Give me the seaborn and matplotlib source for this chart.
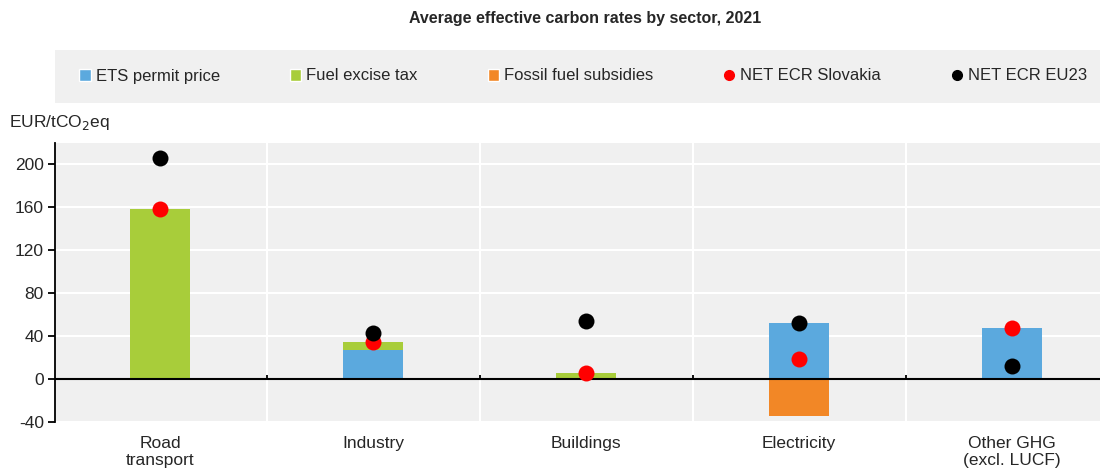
import numpy as np
import pandas as pd
import matplotlib
matplotlib.use("Agg")
import matplotlib.pyplot as plt
from matplotlib.patches import Patch, Rectangle
from matplotlib.lines import Line2D
import seaborn as sns

# Data
sectors = ["Road\ntransport", "Industry", "Buildings", "Electricity", "Other GHG\n(excl. LUCF)"]
ets_price = [0, 27, 0, 52, 47]
fuel_excise = [158, 7, 5.3, 0, 0]
fossil_subsidies = [0, 0, 0, -34, 0]
ecr_slovakia = [158, 34, 5.5, 19, 47]
ecr_eu23 = [206, 43, 54, 52, 12]

BLUE = "#5ba9de"
GREEN = "#a8cd3a"
ORANGE = "#f28726"
BG = "#f0f0f0"

df = pd.DataFrame({
    "sector": sectors,
    "ets": ets_price,
    "excise": fuel_excise,
    "subsidy": fossil_subsidies,
    "svk": ecr_slovakia,
    "eu23": ecr_eu23,
})
# stacked bars: draw the total first, then the lower segment on top
df["ets_excise"] = df["ets"] + df["excise"]

sns.set_theme(style="white")
plt.rcParams["font.family"] = ["Liberation Sans Narrow", "Liberation Sans", "DejaVu Sans"]
plt.rcParams["axes.unicode_minus"] = False

fig = plt.figure(figsize=(11.06, 4.72), dpi=100)
ax = fig.add_axes([55 / 1106, 1 - 422 / 472, 1045 / 1106, 279 / 472])
ax.set_facecolor(BG)

bar_kw = dict(width=0.28, saturation=1, ax=ax, zorder=2, linewidth=0, edgecolor="none")
sns.barplot(data=df, x="sector", y="ets_excise", color=GREEN, **bar_kw)
sns.barplot(data=df, x="sector", y="ets", color=BLUE, **bar_kw)
sns.barplot(data=df, x="sector", y="subsidy", color=ORANGE, **bar_kw)

sns.stripplot(data=df, x="sector", y="svk", color="#ff0000", size=11.5, jitter=False,
              linewidth=0, ax=ax, zorder=4)
sns.stripplot(data=df, x="sector", y="eu23", color="black", size=11.5, jitter=False,
              linewidth=0, ax=ax, zorder=4)

n = len(sectors)
ax.set_xlim(-0.493, 4.413)
ax.set_ylim(-40, 219.5)
ax.set_yticks(np.arange(-40, 201, 40))
ax.set_xticks(range(n))
ax.set_xticklabels(sectors)
ax.set_xticks(np.arange(0.5, n - 1, 1), minor=True)

ax.grid(True, which="major", axis="y", color="white", lw=1.5, zorder=0)
ax.grid(True, which="minor", axis="x", color="white", lw=1.5, zorder=0)
ax.set_axisbelow(True)
ax.axhline(0, color="black", lw=1.5, zorder=3)
# small tick marks on the zero line between sectors
ax.vlines(np.arange(0.5, n - 1, 1), 0, 3.5, color="black", lw=1.3, zorder=3)

for s in ["top", "right", "bottom"]:
    ax.spines[s].set_visible(False)
ax.spines["left"].set_color("black")
ax.spines["left"].set_linewidth(1.3)
ax.tick_params(axis="y", which="major", left=True, length=5, width=1.3,
               color="black", labelsize=12.5, pad=3)
ax.tick_params(axis="x", which="both", bottom=False, labelsize=12.5, pad=4)
ax.set_xlabel("")
ax.set_ylabel("")

fig.text(0.008, 1 - 122 / 472, "EUR/tCO$_2$eq", fontsize=12.5, va="center", ha="left")
fig.text(0.529, 1 - 18 / 472, "Average effective carbon rates by sector, 2021",
         fontsize=11.5, fontweight="bold", ha="center", va="center")

# legend band
fig.patches.append(Rectangle((55 / 1106, 1 - 103 / 472), 1045 / 1106, 53 / 472,
                             transform=fig.transFigure, facecolor=BG,
                             edgecolor="none", zorder=0))
handles = [
    Patch(facecolor=BLUE, label="ETS permit price"),
    Patch(facecolor=GREEN, label="Fuel excise tax"),
    Patch(facecolor=ORANGE, label="Fossil fuel subsidies"),
    Line2D([], [], marker="o", ls="", color="#ff0000", markersize=7, label="NET ECR Slovakia"),
    Line2D([], [], marker="o", ls="", color="black", markersize=7, label="NET ECR EU23"),
]
fig.legend(handles=handles, loc="center", bbox_to_anchor=(0.527, 1 - 76 / 472), ncol=5,
           frameon=False, fontsize=12, handlelength=0.7, handleheight=0.7,
           handletextpad=0.3, columnspacing=4.2)

fig.savefig("out.png", dpi=100)
